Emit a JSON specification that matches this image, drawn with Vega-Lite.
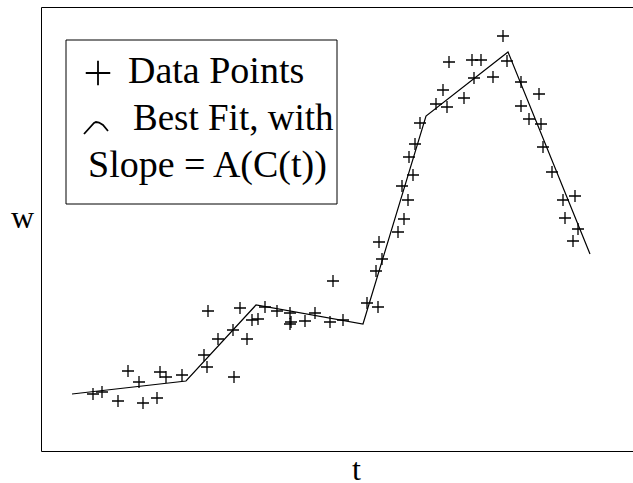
{
  "$schema": "https://vega.github.io/schema/vega-lite/v6.json",
  "width": 592,
  "height": 444,
  "autosize": {"type": "none"},
  "padding": {"left": 41, "top": 7, "right": 0, "bottom": 32},
  "background": "white",
  "config": {
    "view": {"stroke": "black", "strokeWidth": 1},
    "font": "Liberation Serif",
    "axis": {
      "labels": false, "ticks": false, "domain": false, "grid": false,
      "titleFont": "Liberation Serif", "titleFontSize": 32, "titleFontWeight": "normal",
      "titleColor": "black", "titleBaseline": "alphabetic", "titleAlign": "center"
    },
    "axisX": {"titleX": 315, "titleY": 28},
    "axisY": {"titleAngle": 0, "titleX": -19, "titleY": 220}
  },
  "datasets": {
    "points": [
      {"t": 52, "w": 57}, {"t": 61, "w": 59}, {"t": 77, "w": 50}, {"t": 102, "w": 48},
      {"t": 116, "w": 53}, {"t": 87, "w": 80}, {"t": 98, "w": 69}, {"t": 119, "w": 79},
      {"t": 125, "w": 74}, {"t": 141, "w": 76}, {"t": 167, "w": 140}, {"t": 192, "w": 121},
      {"t": 177, "w": 112}, {"t": 163, "w": 96}, {"t": 166, "w": 84}, {"t": 193, "w": 74},
      {"t": 199, "w": 143}, {"t": 211, "w": 131}, {"t": 217, "w": 132}, {"t": 206, "w": 112},
      {"t": 224, "w": 144}, {"t": 236, "w": 140}, {"t": 249, "w": 138}, {"t": 250, "w": 129},
      {"t": 249, "w": 127}, {"t": 264, "w": 130}, {"t": 274, "w": 138}, {"t": 289, "w": 129},
      {"t": 302, "w": 131}, {"t": 292, "w": 170}, {"t": 326, "w": 148}, {"t": 337, "w": 144},
      {"t": 335, "w": 180}, {"t": 341, "w": 192}, {"t": 338, "w": 209}, {"t": 357, "w": 219},
      {"t": 363, "w": 232}, {"t": 367, "w": 251}, {"t": 361, "w": 265}, {"t": 372, "w": 276},
      {"t": 368, "w": 294}, {"t": 374, "w": 307}, {"t": 379, "w": 328}, {"t": 395, "w": 347},
      {"t": 406, "w": 344}, {"t": 402, "w": 361}, {"t": 423, "w": 353}, {"t": 408, "w": 389},
      {"t": 431, "w": 391}, {"t": 440, "w": 391}, {"t": 433, "w": 373}, {"t": 452, "w": 374},
      {"t": 462, "w": 415}, {"t": 466, "w": 390}, {"t": 480, "w": 369}, {"t": 498, "w": 357},
      {"t": 480, "w": 345}, {"t": 488, "w": 332}, {"t": 500, "w": 327}, {"t": 502, "w": 304},
      {"t": 511, "w": 279}, {"t": 522, "w": 251}, {"t": 534, "w": 255}, {"t": 524, "w": 233},
      {"t": 537, "w": 222}, {"t": 532, "w": 210}
    ],
    "fit": [
      {"t": 31, "w": 57}, {"t": 145, "w": 70}, {"t": 215, "w": 146}, {"t": 322, "w": 127},
      {"t": 385, "w": 335}, {"t": 467, "w": 399}, {"t": 549, "w": 197}
    ],
    "keyBox": [{"t1": 25, "t2": 296, "w1": 247, "w2": 411}],
    "keyCross": [{"t": 57, "w": 378}],
    "keyLine": [
      {"t": 43, "w": 317}, {"t": 53, "w": 328}, {"t": 55, "w": 329}, {"t": 58, "w": 328.5},
      {"t": 62, "w": 326}, {"t": 67, "w": 320}
    ],
    "keyText": [
      {"t": 87, "w": 368, "size": 38, "label": "Data Points"},
      {"t": 92, "w": 321, "size": 37, "label": "Best Fit, with"},
      {"t": 47, "w": 274, "size": 38, "label": "Slope = A(C(t))"}
    ]
  },
  "layer": [
    {
      "data": {"name": "fit"},
      "mark": {"type": "line", "color": "black", "strokeWidth": 1.2},
      "encoding": {
        "x": {"field": "t", "type": "quantitative", "title": "t", "scale": {"domain": [0, 592], "nice": false, "zero": false}},
        "y": {"field": "w", "type": "quantitative", "title": "w", "scale": {"domain": [0, 444], "nice": false, "zero": false}}
      }
    },
    {
      "data": {"name": "points"},
      "mark": {"type": "point", "shape": "M-1,0L1,0M0,-1L0,1", "size": 144, "filled": false,
               "stroke": "black", "strokeWidth": 1.3, "opacity": 1},
      "encoding": {
        "x": {"field": "t", "type": "quantitative", "title": "t", "scale": {"domain": [0, 592], "nice": false, "zero": false}},
        "y": {"field": "w", "type": "quantitative", "title": "w", "scale": {"domain": [0, 444], "nice": false, "zero": false}}
      }
    },
    {
      "data": {"name": "keyBox"},
      "mark": {"type": "rect", "fill": "white", "stroke": "black", "strokeWidth": 1},
      "encoding": {
        "x": {"field": "t1", "type": "quantitative", "title": "t", "scale": {"domain": [0, 592], "nice": false, "zero": false}},
        "x2": {"field": "t2"},
        "y": {"field": "w1", "type": "quantitative", "title": "w", "scale": {"domain": [0, 444], "nice": false, "zero": false}},
        "y2": {"field": "w2"}
      }
    },
    {
      "data": {"name": "keyCross"},
      "mark": {"type": "point", "shape": "M-1,0L1,0M0,-1L0,1", "size": 600, "filled": false,
               "stroke": "black", "strokeWidth": 1.8, "opacity": 1},
      "encoding": {
        "x": {"field": "t", "type": "quantitative", "title": "t", "scale": {"domain": [0, 592], "nice": false, "zero": false}},
        "y": {"field": "w", "type": "quantitative", "title": "w", "scale": {"domain": [0, 444], "nice": false, "zero": false}}
      }
    },
    {
      "data": {"name": "keyLine"},
      "mark": {"type": "line", "color": "black", "strokeWidth": 1.8},
      "encoding": {
        "x": {"field": "t", "type": "quantitative", "title": "t", "scale": {"domain": [0, 592], "nice": false, "zero": false}},
        "y": {"field": "w", "type": "quantitative", "title": "w", "scale": {"domain": [0, 444], "nice": false, "zero": false}}
      }
    },
    {
      "data": {"name": "keyText"},
      "mark": {"type": "text", "font": "Liberation Serif", "align": "left",
               "baseline": "alphabetic", "color": "black"},
      "encoding": {
        "x": {"field": "t", "type": "quantitative", "title": "t", "scale": {"domain": [0, 592], "nice": false, "zero": false}},
        "y": {"field": "w", "type": "quantitative", "title": "w", "scale": {"domain": [0, 444], "nice": false, "zero": false}},
        "size": {"field": "size", "type": "quantitative", "scale": null, "legend": null},
        "text": {"field": "label"}
      }
    }
  ]
}
